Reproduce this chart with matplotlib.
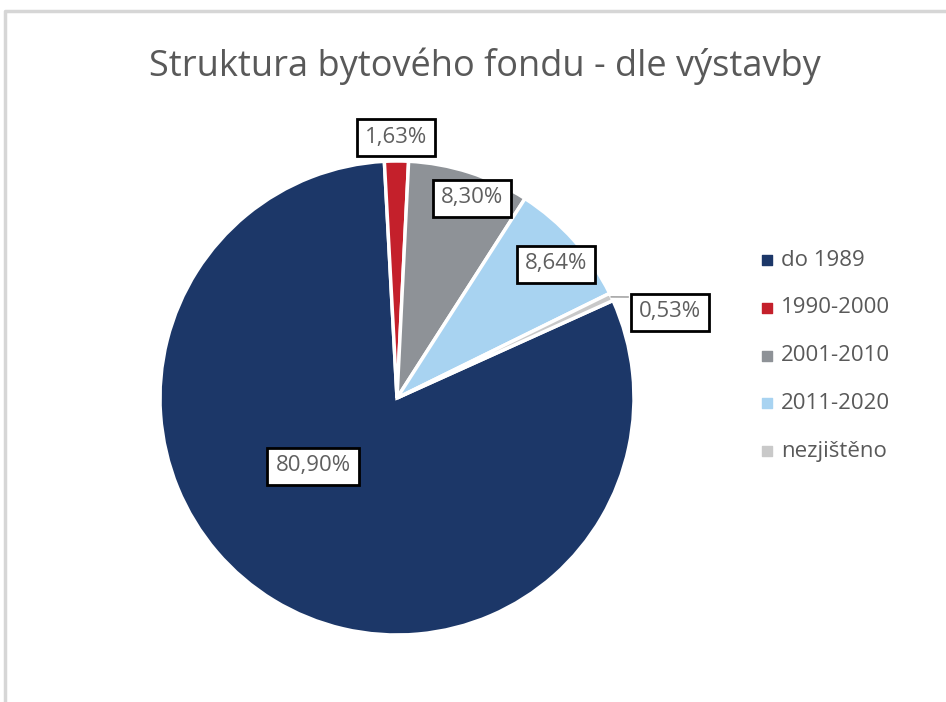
import matplotlib.pyplot as plt
import numpy as np

categories = ["do 1989", "1990-2000", "2001-2010", "2011-2020", "nezjištěno"]
shares = [80.90, 1.63, 8.30, 8.64, 0.53]
labels = ["80,90%", "1,63%", "8,30%", "8,64%", "0,53%"]
colors = ["#1c3768", "#c4202b", "#8e9297", "#a8d3f1", "#c9c9c9"]

# label placement in pixels (layout only)
label_pos = [(313, 466), (396, 137), (472, 198), (556, 264), (670, 312)]

W, H = 946, 702
fig = plt.figure(figsize=(W / 100, H / 100), dpi=100)
ax = fig.add_axes([0, 0, 1, 1])

cx, cy, r = 397, H - 398, 237
wedges, _ = ax.pie(shares, colors=colors, startangle=24.3, counterclock=False,
                   center=(cx, cy), radius=r, frame=True,
                   wedgeprops=dict(edgecolor="white", linewidth=2.5))
ax.set_xlim(0, W)
ax.set_ylim(0, H)
ax.set_aspect("equal")
ax.axis("off")

for text, (x, y) in zip(labels, label_pos):
    ax.text(x, H - y, text, ha="center", va="center", fontsize=16,
            color="#5f5f5f", family="Open Sans",
            bbox=dict(boxstyle="square,pad=0.36", facecolor="white",
                      edgecolor="black", linewidth=2))

# leader line for the small slice
w = wedges[4]
mid = np.deg2rad((w.theta1 + w.theta2) / 2)
ax.plot([cx + r * np.cos(mid), 628], [cy + r * np.sin(mid), H - 297],
        color="#a6a6a6", linewidth=1.2)

ax.text(485, H - 66, "Struktura bytového fondu - dle výstavby", ha="center",
        va="center", fontsize=26, color="#595959", family="Open Sans")

for i, (cat, col) in enumerate(zip(categories, colors)):
    y = H - (260 + i * 47.8)
    ax.scatter([767], [y], marker="s", s=55, color=col)
    ax.text(781, y, cat, ha="left", va="center", fontsize=16,
            color="#595959", family="Open Sans")

# chart border (left and top)
ax.plot([5, 5, W], [0, H - 11, H - 11], color="#d6d6d6", linewidth=2.5)

fig.savefig("out.png", dpi=100)
